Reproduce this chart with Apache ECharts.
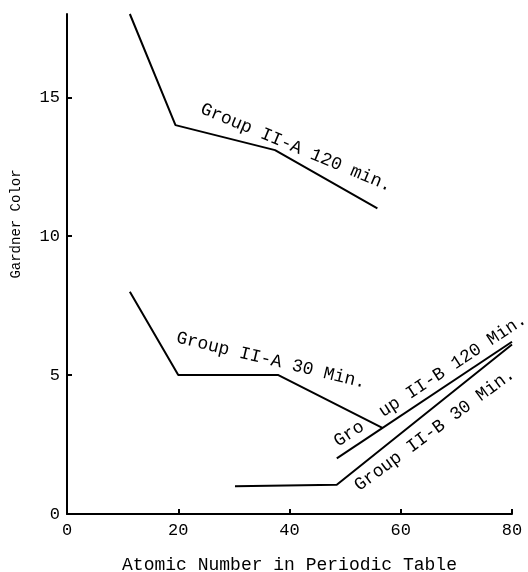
<!DOCTYPE html>
<html><head><meta charset="utf-8">
<script src="https://cdn.jsdelivr.net/npm/echarts@6/dist/echarts.min.js"></script>
<style>html,body{margin:0;padding:0;background:#fff}#c{width:528px;height:572px}</style>
</head><body><div id="c"></div>
<script>
// ---- data ----
const seriesNames = ['Group II-A 120 min.', 'Group II-A 30 Min.', 'Group II-B 120 Min.', 'Group II-B 30 Min.'];
const iiA120 = [[11.3, 18.0], [19.5, 14.0], [37.4, 13.1], [55.8, 11.0]];
const iiA30  = [[11.3, 8.0], [20.0, 5.0], [38.0, 5.0], [56.7, 3.1]];
const iiB120 = [[48.5, 2.0], [80.0, 6.2]];
const iiB30  = [[30.2, 1.0], [48.5, 1.05], [80.0, 6.1]];
const xTickLabels = [0, 20, 40, 60, 80];
const yTickLabels = [0, 5, 10, 15];
const xTitle = 'Atomic Number in Periodic Table';
const yTitle = 'Gardner Color';

// in-plot labels (anchored in data coordinates)
const labelTexts = ['Group II-A 120 min.', 'Group II-A 30 Min.', 'Gro  up II-B 120 Min.', 'Group II-B 30 Min.'];
const labelAnchors = [[41.2, 13.19], [36.7, 5.53], [65.3, 4.81], [66.1, 3.03]];
const labelAngles = [-22.5, -13.5, 33.5, 36.4];

const FONT = '"Liberation Mono", "DejaVu Sans Mono", monospace';
const chart = echarts.init(document.getElementById('c'), null, {renderer: 'canvas'});
const axisLine = {show: true, onZero: false, lineStyle: {color: '#000', width: 2}};
const lineSeries = (name, data) => ({
  name, type: 'line', data, symbol: 'none', silent: true,
  lineStyle: {color: '#000', width: 2}, clip: false
});
chart.setOption({
  animation: false,
  backgroundColor: '#fff',
  grid: {left: 67, right: 16, top: 14, bottom: 58, containLabel: false, outerBoundsMode: 'none'},
  xAxis: {
    type: 'value', min: 0, max: 80, interval: 20,
    axisLine,
    axisTick: {show: true, inside: true, length: 5, lineStyle: {color: '#000', width: 2}, customValues: [20, 40, 60, 80]},
    axisLabel: {color: '#000', fontFamily: FONT, fontSize: 17, margin: 8, customValues: xTickLabels},
    splitLine: {show: false},
    name: xTitle, nameLocation: 'middle', nameGap: 42,
    nameTextStyle: {color: '#000', fontFamily: FONT, fontSize: 18}
  },
  yAxis: {
    type: 'value', min: 0, max: 18, interval: 5,
    axisLine,
    axisTick: {show: true, inside: true, length: 5, lineStyle: {color: '#000', width: 2}, customValues: [5, 10, 15]},
    axisLabel: {color: '#000', fontFamily: FONT, fontSize: 17, margin: 7, customValues: yTickLabels},
    splitLine: {show: false},
    name: yTitle, nameLocation: 'middle', nameGap: 44, nameRotate: 90,
    nameTextStyle: {color: '#000', fontFamily: FONT, fontSize: 14, padding: [0, 0, 0, 80]}
  },
  series: [
    lineSeries(seriesNames[0], iiA120),
    lineSeries(seriesNames[1], iiA30),
    lineSeries(seriesNames[2], iiB120),
    lineSeries(seriesNames[3], iiB30)
  ]
});
const graphics = labelTexts.map((t, i) => {
  const p = chart.convertToPixel({gridIndex: 0}, labelAnchors[i]);
  return {
    type: 'text', x: p[0], y: p[1], rotation: labelAngles[i] * Math.PI / 180, silent: true,
    style: {text: t, fill: '#000', font: '18px ' + FONT,
      align: 'center', verticalAlign: 'middle', textAlign: 'center', textVerticalAlign: 'middle'}
  };
});
chart.setOption({graphic: graphics});
</script></body></html>
